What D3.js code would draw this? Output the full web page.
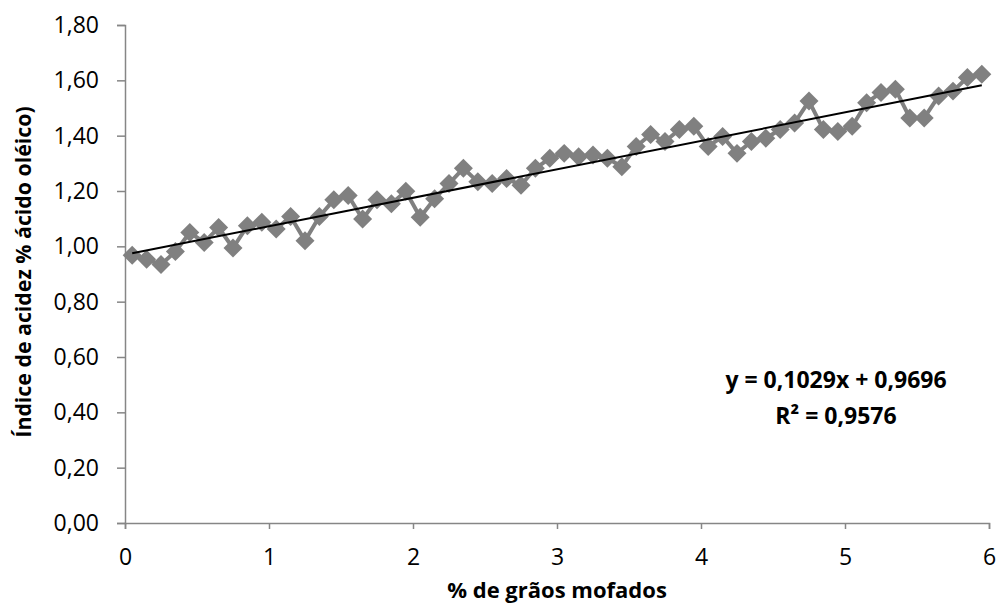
<!DOCTYPE html>
<html>
<head>
<meta charset="utf-8">
<script src="https://cdn.jsdelivr.net/npm/d3@7"></script>
<style>
  body { margin: 0; background: #fff; }
  text { font-family: "Open Sans", "Noto Sans", sans-serif; }
  .tick text { font-size: 23px; fill: #000; }
</style>
</head>
<body>
<svg id="chart" width="998" height="607"></svg>
<script>
// % de grãos mofados
var xValues = [0.05, 0.15, 0.25, 0.35, 0.45, 0.55, 0.65, 0.75, 0.85, 0.95,
               1.05, 1.15, 1.25, 1.35, 1.45, 1.55, 1.65, 1.75, 1.85, 1.95,
               2.05, 2.15, 2.25, 2.35, 2.45, 2.55, 2.65, 2.75, 2.85, 2.95,
               3.05, 3.15, 3.25, 3.35, 3.45, 3.55, 3.65, 3.75, 3.85, 3.95,
               4.05, 4.15, 4.25, 4.35, 4.45, 4.55, 4.65, 4.75, 4.85, 4.95,
               5.05, 5.15, 5.25, 5.35, 5.45, 5.55, 5.65, 5.75, 5.85, 5.95]

// Índice de acidez (% ácido oléico)
var acidez = [0.968, 0.953, 0.934, 0.981, 1.050, 1.014, 1.068, 0.994, 1.074, 1.087,
              1.063, 1.108, 1.020, 1.108, 1.168, 1.184, 1.099, 1.168, 1.154, 1.199,
              1.105, 1.172, 1.227, 1.282, 1.233, 1.227, 1.245, 1.221, 1.282, 1.318,
              1.336, 1.324, 1.330, 1.318, 1.288, 1.361, 1.404, 1.379, 1.422, 1.434,
              1.361, 1.397, 1.336, 1.379, 1.391, 1.422, 1.446, 1.525, 1.422, 1.415,
              1.434, 1.519, 1.556, 1.568, 1.464, 1.464, 1.543, 1.561, 1.610, 1.622]

var xTicks = [0, 1, 2, 3, 4, 5, 6]
var yTicks = [0, 0.2, 0.4, 0.6, 0.8, 1.0, 1.2, 1.4, 1.6, 1.8]

// linear trendline from the chart
var trendCoef = [0.1029, 0.9696]
var r2 = 0.9576

var svg = d3.select("#chart")
var mLeft = 125, mRight = 989, mTop = 25, mBottom = 523

var x = d3.scaleLinear().domain([0, 6]).range([mLeft, mRight])
var y = d3.scaleLinear().domain([0, 1.8]).range([mBottom, mTop])

var comma = d => d3.format(".2f")(d).replace(".", ",")

// axes
svg.append("g")
    .attr("transform", "translate(0," + mBottom + ")")
    .call(d3.axisBottom(x).tickValues(xTicks).tickSize(6).tickPadding(20).tickFormat(d3.format("d")))
svg.append("g")
    .attr("transform", "translate(" + mLeft + ",0)")
    .call(d3.axisLeft(y).tickValues(yTicks).tickSize(8).tickPadding(18).tickFormat(comma))

svg.selectAll(".domain, .tick line").attr("stroke", "#868686").attr("stroke-width", 1.5)

// data line + markers
var line = d3.line().x((d, i) => x(xValues[i])).y(d => y(d))
svg.append("path")
    .datum(acidez)
    .attr("d", line)
    .attr("fill", "none")
    .attr("stroke", "#808080")
    .attr("stroke-width", 4)
    .attr("stroke-linejoin", "round")

var diamond = d3.symbol().type(d3.symbolDiamond2).size(230)
svg.selectAll(".pt")
    .data(acidez)
    .join("path")
    .attr("class", "pt")
    .attr("d", diamond)
    .attr("transform", (d, i) => "translate(" + x(xValues[i]) + "," + y(d) + ")")
    .attr("fill", "#808080")

// trendline
var tx = d3.extent(xValues)
svg.append("line")
    .attr("x1", x(tx[0])).attr("y1", y(trendCoef[0] * tx[0] + trendCoef[1]))
    .attr("x2", x(tx[1])).attr("y2", y(trendCoef[0] * tx[1] + trendCoef[1]))
    .attr("stroke", "#000")
    .attr("stroke-width", 2)

// equation
var eqX = 836
var eq = svg.append("text")
    .attr("x", eqX).attr("y", 388)
    .attr("text-anchor", "middle")
    .attr("font-size", 23).attr("font-weight", "bold")
eq.append("tspan").attr("x", eqX).attr("dy", 0)
    .text("y = " + String(trendCoef[0]).replace(".", ",") + "x + " + String(trendCoef[1]).replace(".", ","))
eq.append("tspan").attr("x", eqX).attr("dy", 36)
    .text("R² = " + String(r2).replace(".", ","))

// axis titles
svg.append("text")
    .attr("x", 557).attr("y", 598)
    .attr("text-anchor", "middle")
    .attr("font-size", 22).attr("font-weight", "bold")
    .text("% de grãos mofados")

svg.append("text")
    .attr("transform", "translate(31,272) rotate(-90)")
    .attr("text-anchor", "middle")
    .attr("font-size", 21.3).attr("font-weight", "bold")
    .text("Índice de acidez % ácido oléico)")
</script>
</body>
</html>
